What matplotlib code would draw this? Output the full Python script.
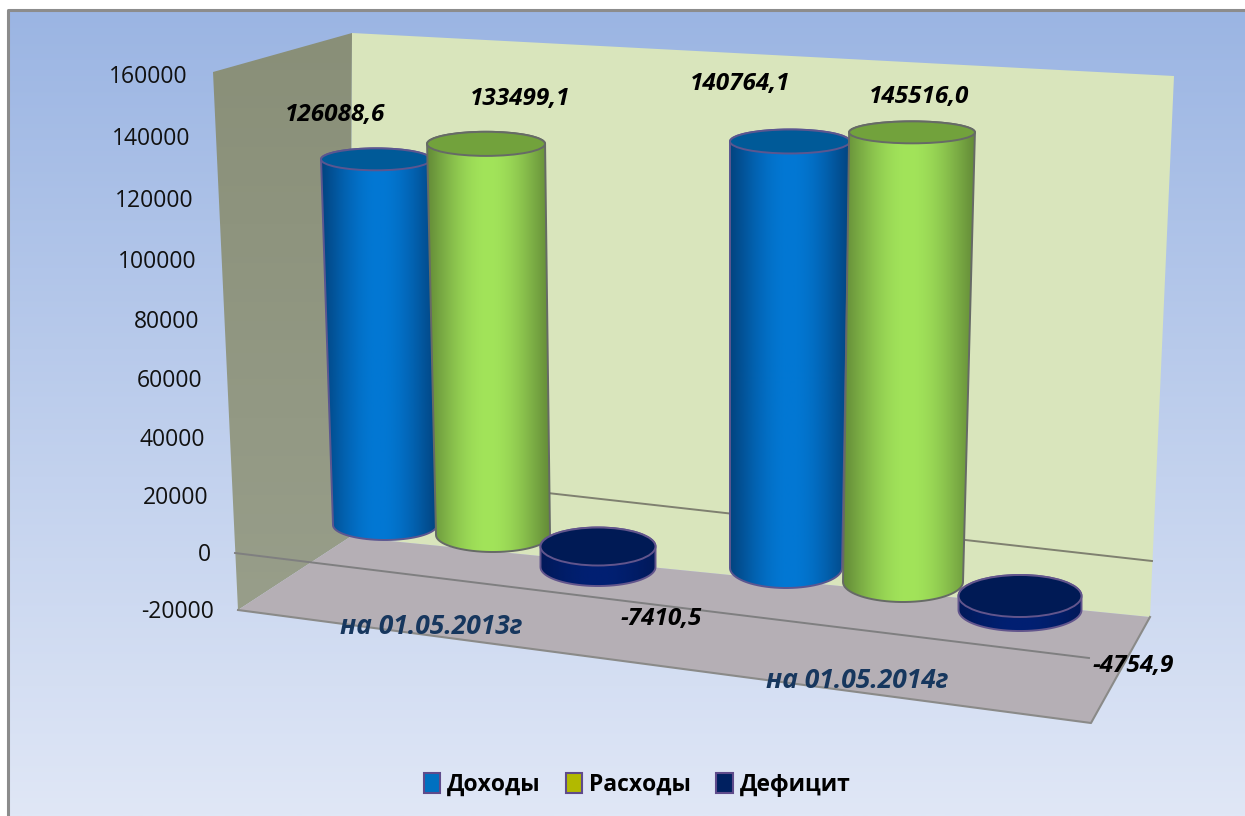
import numpy as np
import matplotlib
matplotlib.use('Agg')
import matplotlib.pyplot as plt
from matplotlib.patches import Polygon, Patch, Ellipse

# data
categories = ['на 01.05.2013г', 'на 01.05.2014г']
series_names = ['Доходы', 'Расходы', 'Дефицит']
dohody = [126088.6, 140764.1]
rashody = [133499.1, 145516.0]
deficit = [-7410.5, -4754.9]
axis_ticks = [160000, 140000, 120000, 100000, 80000, 60000, 40000, 20000, 0, -20000]

plt.rcParams['font.family'] = ['Open Sans', 'DejaVu Sans']

W, H = 1245, 816
fig = plt.figure(figsize=(W / 100, H / 100), dpi=100)
ax = fig.add_axes([0, 0, 1, 1])
ax.set_xlim(0, W)
ax.set_ylim(H, 0)
ax.axis('off')


def vgrad(c1, c2, extent, zorder, clip=None):
    g = np.linspace(0, 1, 256)[:, None, None]
    img = (np.array(c1) * (1 - g) + np.array(c2) * g) / 255
    im = ax.imshow(img, extent=extent, aspect='auto', zorder=zorder, interpolation='bilinear')
    if clip is not None:
        im.set_clip_path(clip)
    return im


def hgrad(edge, mid, extent, zorder, clip):
    t = np.linspace(0, 1, 256)
    s = np.sin(np.pi * t) ** 1.1
    s = s[None, :, None]
    img = (np.array(edge) * (1 - s) + np.array(mid) * s) / 255
    im = ax.imshow(img, extent=extent, aspect='auto', zorder=zorder, interpolation='bilinear')
    im.set_clip_path(clip)
    return im


# background + frame
vgrad((155, 181, 227), (224, 231, 246), (8, W, H, 10), 0)
ax.plot([8, 8, W], [H, 10, 10], color='#8c8c8c', lw=2.2, zorder=1, solid_capstyle='butt')

# walls and floor
left_wall = Polygon([(213, 72), (352, 33), (350, 537), (238, 610)], fc='none', ec='none', zorder=2)
ax.add_patch(left_wall)
vgrad((137, 143, 120), (152, 158, 138), (210, 355, 612, 30), 2, left_wall)
ax.add_patch(Polygon([(352, 33), (1174, 76), (1150, 617), (350, 537)], fc='#d9e5bc', ec='none', zorder=2))
ax.add_patch(Polygon([(238, 610), (350, 537), (1150, 617), (1091, 723)], fc='#b5afb5', ec='none', zorder=3))
ax.plot([238, 1091, 1150], [610, 723, 617], color='#8a8a88', lw=1.5, zorder=3.2)

# zero level lines
ax.plot([352, 1152], [471, 561], color='#7f8070', lw=1.4, zorder=2.5)
ax.plot([235, 1089], [553, 658], color='#7f7f80', lw=1.4, zorder=3.5)


# axis labels follow the front edge of the left wall
def axis_pos(v):
    t = (160000 - v) / 180000
    return 188 + 26 * t, 77 + 535 * t + 28 * t * (1 - t)


for v in axis_ticks:
    x, y = axis_pos(v)
    ax.text(x, y, str(v), ha='right', va='center', fontsize=16.5, color='#111111', zorder=6)

# bar geometry: x, y, rx, ry at zero level, px per 100000 height, lean, rx growth, ry growth
geom = [
    (385, 525, 52, 15, 290, -7.1, 2.4, -3.2),
    (493, 535, 57, 17, 293, -5.2, 1.5, -3.7),
    (598, 546.5, 57.5, 19, 277, 0, 0, 0),
    (786, 568, 56, 20, 303, 2.8, 2.8, -5.7),
    (903, 582, 60, 20, 309, 6.2, 2.0, -6.2),
    (1020, 596, 61.5, 21, 295, 0, 0, 0),
]
blue = dict(edge=(2, 68, 128), mid=(2, 120, 212), top='#005a98', line='#5b5690')
green = dict(edge=(100, 140, 56), mid=(162, 228, 90), top='#72a23c', line='#666a66')
navy = dict(edge=(1, 25, 90), mid=(1, 32, 115), top='#001a55', line='#62558c')
styles = [blue, green, navy, blue, green, navy]
bar_values = [dohody[0], rashody[0], deficit[0], dohody[1], rashody[1], deficit[1]]


def half_ellipse(cx, cy, rx, ry, lower):
    a = np.linspace(0, np.pi, 40)
    if lower:
        return np.column_stack([cx + rx * np.cos(a), cy + ry * np.sin(a)])
    return np.column_stack([cx - rx * np.cos(a), cy - ry * np.sin(a)])


for i, (value, g, st) in enumerate(zip(bar_values, geom, styles)):
    x0, y0, rx0, ry0, k, lean, drx, dry = g
    u = value / 100000
    x1, y1, rx1, ry1 = x0 + lean * u, y0 - k * u, rx0 + drx * u, ry0 + dry * u
    z = 10 + i
    if value >= 0:
        xb, yb, rxb, ryb, xt, yt, rxt, ryt = x0, y0, rx0, ry0, x1, y1, rx1, ry1
    else:
        xb, yb, rxb, ryb, xt, yt, rxt, ryt = x1, y1, rx1, ry1, x0, y0, rx0, ry0
    body = Polygon(np.vstack([half_ellipse(xb, yb, rxb, ryb, True),
                              half_ellipse(xt, yt, rxt, ryt, False)]),
                   fc='none', ec=st['line'], lw=1.4, zorder=z + 0.2)
    ax.add_patch(body)
    left = min(xb - rxb, xt - rxt)
    right = max(xb + rxb, xt + rxt)
    hgrad(st['edge'], st['mid'], (left, right, yb + ryb + 2, yt - ryt - 2), z, body)
    ax.add_patch(Ellipse((xt, yt), 2 * rxt, 2 * ryt, fc=st['top'], ec=st['line'], lw=1.4, zorder=z + 0.4))

ax.set_xlim(0, W)
ax.set_ylim(H, 0)

# data labels
label_pos = [(335, 115), (520, 99), (661, 619), (740, 84), (919, 97), (1133, 666)]
for value, (x, y) in zip(bar_values, label_pos):
    ax.text(x, y, f'{value:.1f}'.replace('.', ','), ha='center', va='center', fontsize=17.5,
            fontweight='bold', fontstyle='italic', color='black', zorder=20)

# category labels
cat_pos = [(431, 627), (857, 680)]
for name, (x, y) in zip(categories, cat_pos):
    ax.text(x, y, name, ha='center', va='center', fontsize=19, fontweight='bold',
            fontstyle='italic', color='#17375e', zorder=20)

# legend
handles = [Patch(fc=c, ec='#5f4b8b', lw=1.5, label=n)
           for c, n in zip(['#0070c0', '#b2b900', '#002060'], series_names)]
leg = ax.legend(handles=handles, ncol=3, loc='center', bbox_to_anchor=(637 / W, 1 - 785 / H),
                frameon=False, handlelength=0.72, handleheight=1.0, handletextpad=0.3,
                columnspacing=1.1, prop={'size': 16.5, 'weight': 'bold'})
leg.set_zorder(20)

fig.savefig('out.png', dpi=100)
